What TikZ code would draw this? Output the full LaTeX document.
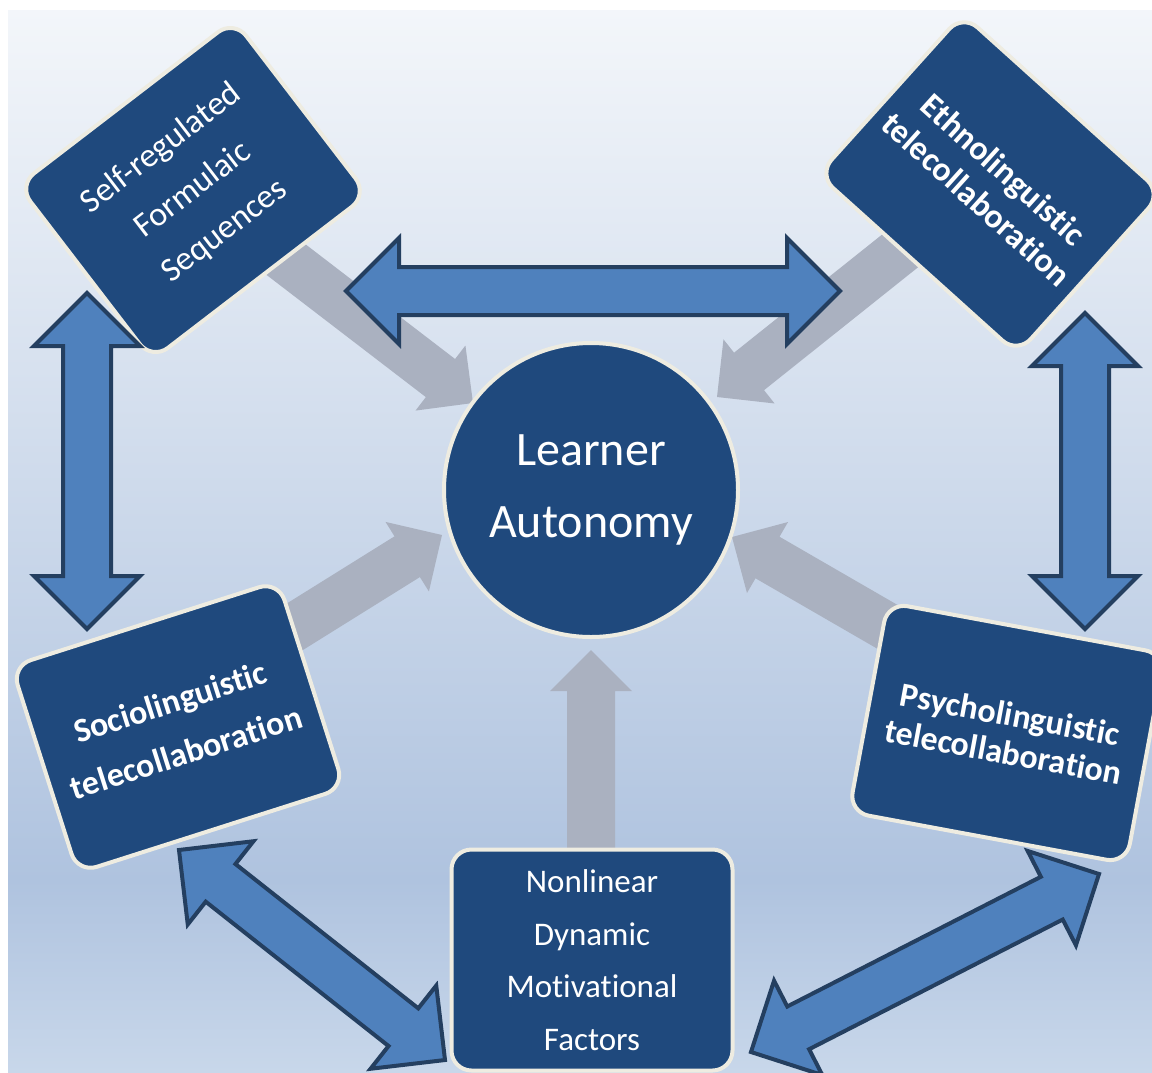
\documentclass[tikz,border=0pt]{standalone}
\usepackage{fontspec}
\setmainfont{Carlito}[Ligatures={NoCommon}]
\usetikzlibrary{calc}
\definecolor{boxblue}{HTML}{1F497D}
\definecolor{cream}{HTML}{EEECE1}
\definecolor{arrowblue}{HTML}{4F81BD}
\definecolor{arrowedge}{HTML}{243F60}
\definecolor{arrowgray}{HTML}{AAB1C0}
\definecolor{bgtop}{HTML}{F3F6FA}
\definecolor{bgmid}{HTML}{AFC3DF}
\definecolor{bgbot}{HTML}{C8D7EA}
% double block arrow between two named coordinates
\newcommand\dblblockarrow[2]{%
  \coordinate (#1#2p) at ($(#1)!53pt!(#2)$);
  \coordinate (#1#2q) at ($(#2)!53pt!(#1)$);
  \draw[bluearrow] (#1) -- ($(#1#2p)!53pt!90:(#2)$) -- ($(#1#2p)!24pt!90:(#2)$)
    -- ($(#1#2q)!24pt!-90:(#1)$) -- ($(#1#2q)!53pt!-90:(#1)$) -- (#2)
    -- ($(#1#2q)!53pt!90:(#1)$) -- ($(#1#2q)!24pt!90:(#1)$)
    -- ($(#1#2p)!24pt!-90:(#2)$) -- ($(#1#2p)!53pt!-90:(#2)$) -- cycle;}
% single gray block arrow from #1 to tip #2
\newcommand\grayblockarrow[2]{%
  \coordinate (#1#2q) at ($(#2)!41pt!(#1)$);
  \fill[grayarrow] ($(#1)!24pt!90:(#2)$) -- ($(#1#2q)!24pt!-90:(#1)$)
    -- ($(#1#2q)!41pt!-90:(#1)$) -- (#2) -- ($(#1#2q)!41pt!90:(#1)$)
    -- ($(#1#2q)!24pt!90:(#1)$) -- ($(#1)!24pt!-90:(#2)$) -- cycle;}
\begin{document}
\begin{tikzpicture}[x=1pt,y=-1pt,
  box/.style={draw=cream, line width=4pt, fill=boxblue, rounded corners=20pt,
    text=white, align=center, inner sep=0pt},
  hub/.style={draw=cream, line width=4pt, fill=boxblue, circle, inner sep=0pt,
    minimum size=294pt, text=white, align=center,
    font=\fontsize{48}{72}\selectfont},
  bluearrow/.style={fill=arrowblue, draw=arrowedge, line width=4pt, line join=miter},
  grayarrow/.style={fill=arrowgray}]
\useasboundingbox (0,0) rectangle (1152,1072);
\fill[white] (0,0) rectangle (1152,1072);
\shade[top color=bgtop, bottom color=bgmid] (8,10) rectangle (1152,880.5);
\shade[top color=bgmid, bottom color=bgbot] (8,880) rectangle (1152,1072);

% gray arrows (behind)
\coordinate (g1s) at (267,245);  \coordinate (g1t) at (473,403);
\coordinate (g2s) at (920,235);  \coordinate (g2t) at (717,397);
\coordinate (g3s) at (272,641);  \coordinate (g3t) at (442,535);
\coordinate (g4s) at (905,637);  \coordinate (g4t) at (732,537);
\coordinate (g5s) at (591,900);  \coordinate (g5t) at (591,650);
\grayblockarrow{g1s}{g1t}
\grayblockarrow{g2s}{g2t}
\grayblockarrow{g3s}{g3t}
\grayblockarrow{g4s}{g4t}
\grayblockarrow{g5s}{g5t}

% nodes
\node[hub] (la) at (591,490) {Learner\\Autonomy};
\node[box, minimum width=272pt, minimum height=220pt, rotate=37.5,
  font=\fontsize{34}{52}\selectfont] (sfs) at (193,190)
  {Self-regulated\\Formulaic\\Sequences};
\node[box, minimum width=268pt, minimum height=216pt, rotate=-42,
  font=\fontsize{34}{40}\selectfont\bfseries] (eth) at (990,184)
  {Ethnolinguistic\\telecollaboration};
\node[box, minimum width=280pt, minimum height=217pt, rotate=17.7,
  font=\fontsize{34}{53}\selectfont\bfseries] (soc) at (178,727)
  {Sociolinguistic\\telecollaboration};
\node[box, minimum width=282pt, minimum height=213pt, rotate=-10.5,
  font=\fontsize{34}{38}\selectfont\bfseries] (psy) at (1007,733)
  {Psycholinguistic\\telecollaboration};
\node[box, minimum width=281pt, minimum height=221pt,
  font=\fontsize{33}{52.5}\selectfont] (ndm) at (592,960)
  {Nonlinear\\Dynamic\\Motivational\\Factors};

% blue double arrows (front)
\coordinate (bta) at (346,291);  \coordinate (btb) at (840,291);
\coordinate (bla) at (87,293);   \coordinate (blb) at (87,629);
\coordinate (bra) at (1085,313); \coordinate (brb) at (1085,629);
\coordinate (bda) at (179,850);  \coordinate (bdb) at (445,1060);
\coordinate (bea) at (751,1052); \coordinate (beb) at (1099,874);
\dblblockarrow{bta}{btb}
\dblblockarrow{bla}{blb}
\dblblockarrow{bra}{brb}
\dblblockarrow{bda}{bdb}
\dblblockarrow{bea}{beb}
\end{tikzpicture}
\end{document}
